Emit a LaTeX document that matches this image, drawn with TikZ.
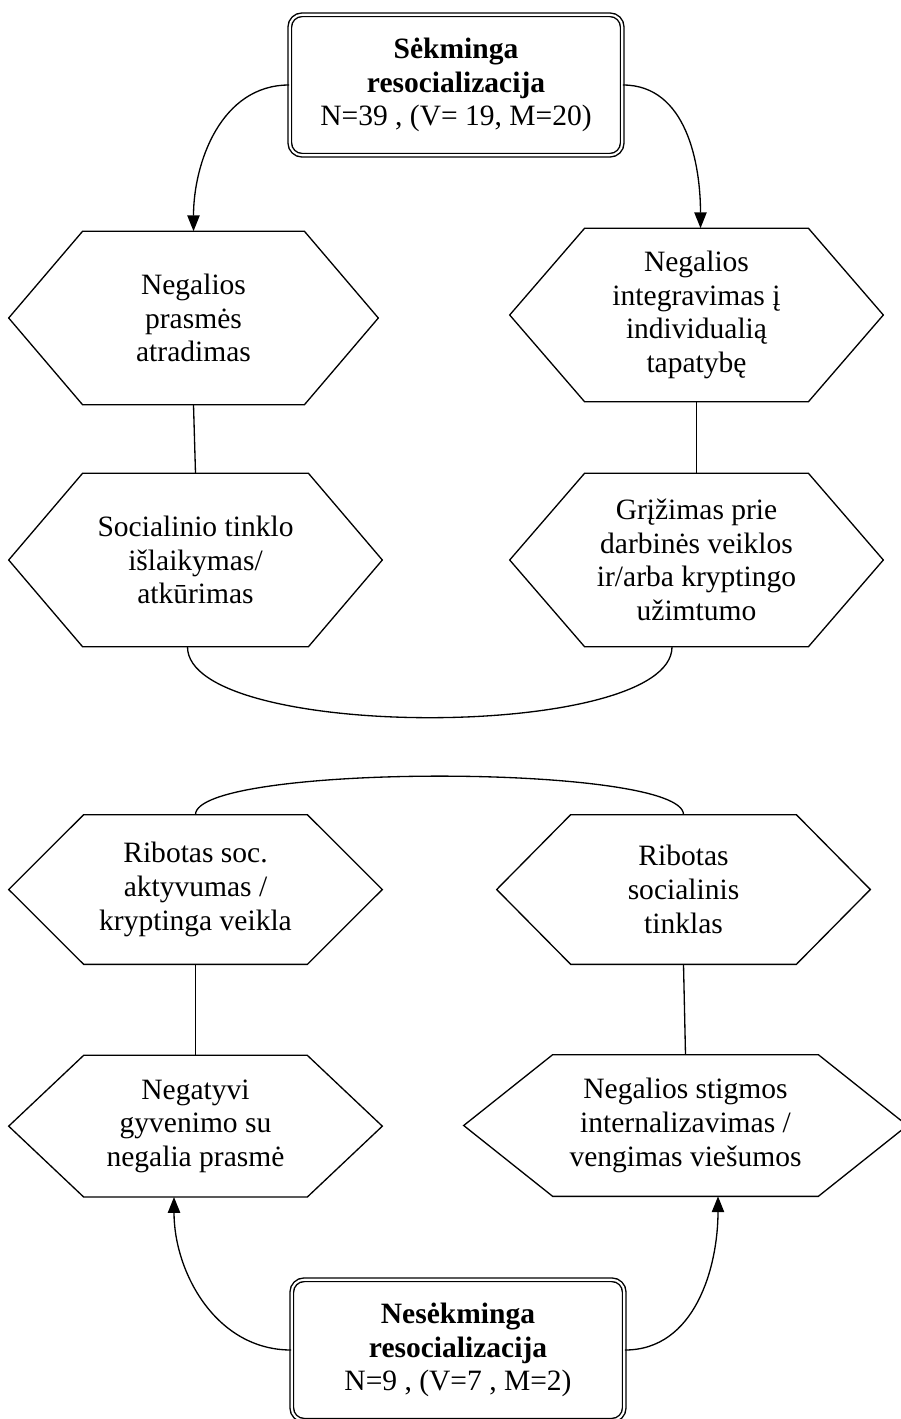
\documentclass[tikz,border=0pt]{standalone}
\usepackage{fontspec}
\setmainfont{Liberation Serif}
\usepackage{tikz}
\usetikzlibrary{arrows.meta,positioning}

\begin{document}
\begin{tikzpicture}[
  x=0.02cm, y=-0.02cm,
  font=\fontsize{16.8}{19.2}\selectfont,
  hexbox/.style={rectangle, align=center, inner sep=0pt,
                 minimum width=7.46cm, minimum height=#1},
  hexbox/.default=3.46cm,
  hexline/.style={draw=black, line width=0.75pt},
  outcome/.style={rectangle, rounded corners=7pt, draw=black, double,
                  line width=0.8pt, double distance=1.2pt, align=center,
                  minimum width=6.65cm, minimum height=2.81cm},
  link/.style={line width=0.75pt},
  arrow/.style={-{Triangle[length=9pt,width=7pt]}, line width=0.75pt}
]

\useasboundingbox (0,0) rectangle (900,1419);

% sekminga resocializacija
\node[outcome] (success) at (456,85)
  {\textbf{Sėkminga}\\\textbf{resocializacija}\\N=39 , (V= 19, M=20)};
\node[hexbox, minimum width=7.38cm] (meaning) at (193.5,318)
  {Negalios\\prasmės\\atradimas};
\node[hexbox] (identity) at (696.5,315)
  {Negalios\\integravimas į\\individualią\\tapatybę};
\node[hexbox] (network) at (195.5,560)
  {Socialinio tinklo\\išlaikymas/\\atkūrimas};
\node[hexbox] (work) at (696.5,560)
  {Grįžimas prie\\darbinės veiklos\\ir/arba kryptingo\\užimtumo};

% nesekminga resocializacija
\node[hexbox=2.98cm] (activity) at (195.5,889.5)
  {Ribotas soc.\\aktyvumas /\\kryptinga veikla};
\node[hexbox=2.98cm] (limited) at (683.5,889.5)
  {Ribotas\\socialinis\\tinklas};
\node[hexbox=2.82cm, below=1.82cm of activity] (negative)
  {Negatyvi\\gyvenimo su\\negalia prasmė};
\node[hexbox=2.82cm, minimum width=8.86cm] (stigma) at (685.5,1125.5)
  {Negalios stigmos\\internalizavimas /\\vengimas viešumos};
\node[outcome] (failure) at (458,1350)
  {\textbf{Nesėkminga}\\\textbf{resocializacija}\\N=9 , (V=7 , M=2)};

% hexagon outlines
\foreach \n/\d in {meaning/1.48, identity/1.5, network/1.48, work/1.5,
                   activity/1.5, limited/1.48, negative/1.5, stigma/1.78}
  \draw[hexline] (\n.west) -- ([xshift=\d cm]\n.north west)
    -- ([xshift=-\d cm]\n.north east) -- (\n.east)
    -- ([xshift=-\d cm]\n.south east) -- ([xshift=\d cm]\n.south west) -- cycle;

\draw[arrow] (success.west) to[out=180,in=90] (meaning.north);
\draw[arrow] (success.east) to[out=0,in=90] ([xshift=0.08cm]identity.north);
\draw[link] (meaning.south) -- (network.north);
\draw[link] (identity.south) -- (work.north);
\draw[link] ([xshift=-0.16cm]network.south) to[out=-90,in=-90,looseness=0.5]
  ([xshift=-0.49cm]work.south);

\draw[link] (activity.north) to[out=90,in=90,looseness=0.27] (limited.north);
\draw[link] (activity.south) -- (negative.north);
\draw[link] (limited.south) -- (stigma.north);
\draw[arrow] (failure.west) to[out=180,in=-90] ([xshift=-0.43cm]negative.south);
\draw[arrow] (failure.east) to[out=0,in=-90] ([xshift=0.65cm]stigma.south);

\end{tikzpicture}
\end{document}
